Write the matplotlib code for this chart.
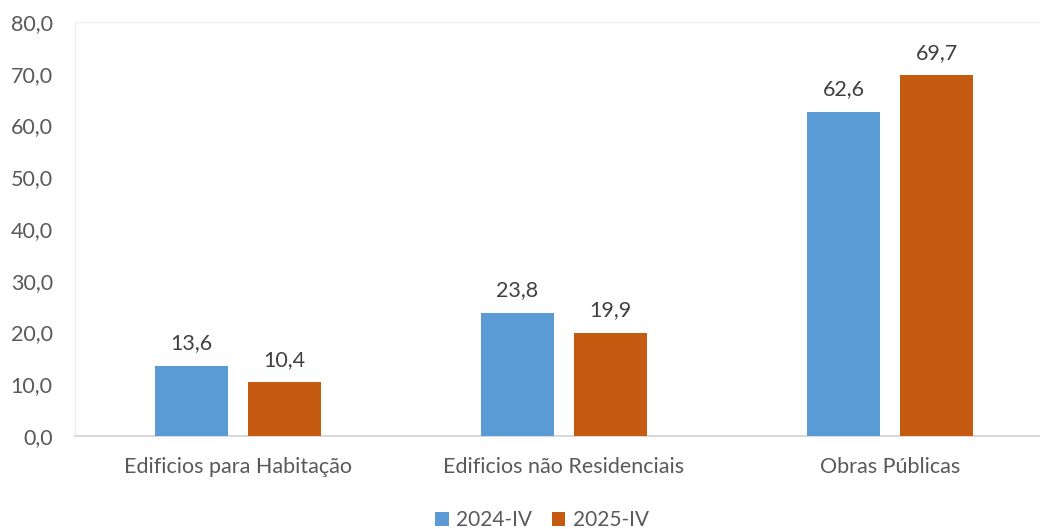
import matplotlib
matplotlib.use("Agg")
import matplotlib.pyplot as plt
import numpy as np

categories = ["Edificios para Habitação", "Edificios não Residenciais", "Obras Públicas"]
series_names = ["2024-IV", "2025-IV"]
values_2024 = [13.6, 23.8, 62.6]
values_2025 = [10.4, 19.9, 69.7]
yticks = [0, 10, 20, 30, 40, 50, 60, 70, 80]

plt.rcParams['font.family'] = ['Lato', 'DejaVu Sans']

W, H = 1040, 529
fig = plt.figure(figsize=(W/100, H/100), dpi=100)
ax = fig.add_axes([75/W, (H-436)/H, 978/W, 414/H])

x = np.arange(len(categories))
bw = 0.224
off = 0.143
colors = ["#5B9BD5", "#C55A11"]
b1 = ax.bar(x - off, values_2024, bw, color=colors[0], label=series_names[0], zorder=3)
b2 = ax.bar(x + off, values_2025, bw, color=colors[1], label=series_names[1], zorder=3)

for bars, vals in ((b1, values_2024), (b2, values_2025)):
    for rect, v in zip(bars, vals):
        ax.annotate(f"{v:.1f}".replace(".", ","), (rect.get_x() + rect.get_width()/2, v),
                    xytext=(0, 9), textcoords="offset points", ha="center", va="bottom",
                    fontsize=15.5, color="#404040")

ax.set_xlim(-0.5, 2.5)
ax.set_ylim(0, 80)
ax.set_yticks(yticks)
ax.set_yticklabels([f"{t:.1f}".replace(".", ",") for t in yticks])
ax.set_xticks(x)
ax.set_xticklabels(categories)
ax.tick_params(axis="both", length=0, labelsize=15.5, labelcolor="#595959")
ax.tick_params(axis="y", pad=16)
ax.tick_params(axis="x", pad=15)

for s in ["top", "right", "left"]:
    ax.spines[s].set_color("#F0F0F0")
    ax.spines[s].set_linewidth(1)
ax.spines["bottom"].set_color("#D9D9D9")
ax.spines["bottom"].set_linewidth(1.5)

leg = fig.legend(loc="center", bbox_to_anchor=(542/W, 1 - 520/H), ncol=2, frameon=False,
                 fontsize=15, handlelength=0.65, handleheight=0.65, handletextpad=0.35,
                 columnspacing=0.95, labelcolor="#595959")

fig.savefig("out.png", dpi=100)
